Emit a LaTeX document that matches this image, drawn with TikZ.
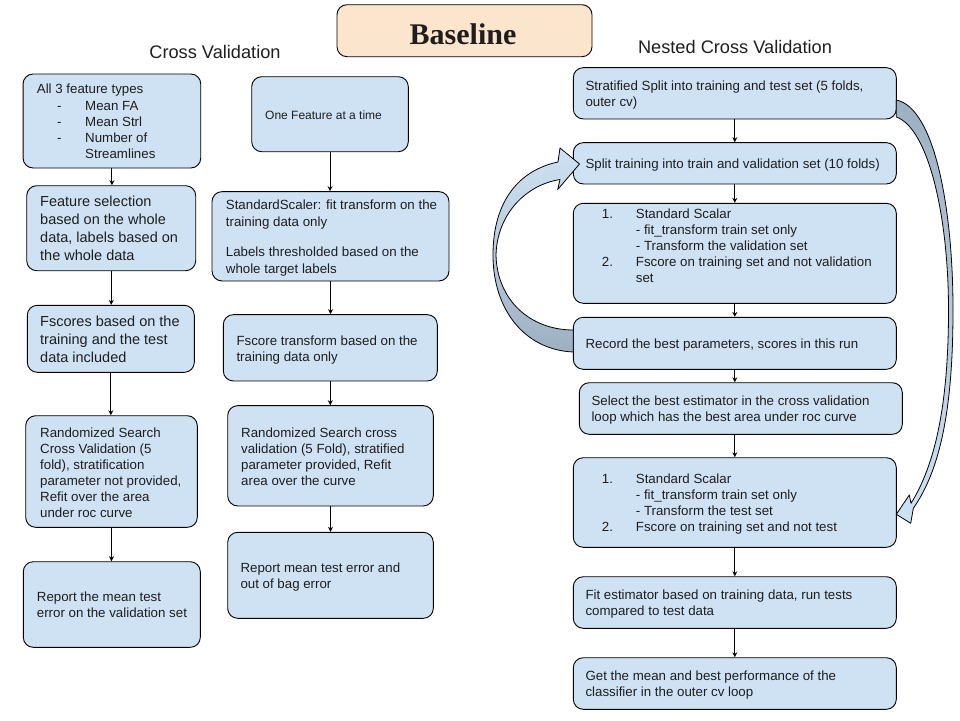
\documentclass[tikz,border=0pt]{standalone}
\usepackage{fontspec}
\setmainfont{Liberation Sans}
\newfontfamily\titlefont{Liberation Serif}
\usetikzlibrary{arrows.meta}
\definecolor{boxblue}{HTML}{CFE2F3}
\definecolor{peach}{HTML}{FCE5CD}
\definecolor{arrowgray}{HTML}{9DB0C1}
\definecolor{txtcol}{HTML}{1E1E1E}
\begin{document}
\begin{tikzpicture}[x=1pt,y=-1pt,
  box/.style={draw=black, line width=0.9pt, fill=boxblue, rounded corners=10pt, inner sep=0pt},
  tx/.style={anchor=north west, inner sep=0pt, align=left, text=txtcol, font=\fontsize{13.3}{16}\selectfont},
  txbig/.style={tx, font=\fontsize{14.5}{18}\selectfont},
  txsmall/.style={tx, font=\fontsize{12}{15}\selectfont},
  flow/.style={draw=black, line width=0.9pt, -{Stealth[length=5pt,width=5pt]}},
  bigarrow/.style={draw=black, line width=0.8pt, line join=round},
  head/.style={text=txtcol, inner sep=0pt, font=\fontsize{18.2}{20}\selectfont}
]
\useasboundingbox (0,0) rectangle (960,720);

% title
\node[draw=black, line width=0.9pt, fill=peach, rounded corners=10pt, minimum width=255pt, minimum height=52pt] (titlebox) at (464.5,30.7) {};
\node[inner sep=0pt, text=txtcol, font=\titlefont\bfseries\fontsize{30}{30}\selectfont] (title) at (463,34) {Baseline};

\node[head] (cvhead) at (215,51.7) {Cross Validation};
\node[head] (nestedhead) at (735,46.7) {Nested Cross Validation};

% left column
\node[box, minimum width=177.7pt, minimum height=94pt] (L1) at (111.9,121) {};
\node[box, minimum width=169pt, minimum height=85pt] (L2) at (111.2,228.2) {};
\node[box, minimum width=167pt, minimum height=67pt] (L3) at (110.8,338.8) {};
\node[box, minimum width=171.6pt, minimum height=111.6pt] (L4) at (111.5,471.5) {};
\node[box, minimum width=177pt, minimum height=85.6pt] (L5) at (111.8,604.5) {};

\node[tx] (L1t) at (36.7,84) {All 3 feature types};
\node[tx] (L1d) at (57,101) {\vphantom{M}-\\-\\-};
\node[tx] (L1i) at (85,101) {Mean FA\\Mean Strl\\Number of\\Streamlines};
\node[txbig] (L2t) at (40,196) {Feature selection\\based on the whole\\data, labels based on\\the whole data};
\node[txbig] (L3t) at (40,316) {Fscores based on the\\training and the test\\data included};
\node[tx] (L4t) at (40,427.3) {Randomized Search\\Cross Validation (5\\fold), stratification\\parameter not provided,\\Refit over the area\\under roc curve};
\node[tx] (L5t) at (36.7,591.7) {Report the mean test\\error on the validation set};

% middle column
\node[box, minimum width=156.6pt, minimum height=75pt] (M1) at (330,114.2) {};
\node[box, minimum width=237pt, minimum height=89.3pt] (M2) at (330.5,236.3) {};
\node[box, minimum width=214pt, minimum height=66.3pt] (M3) at (330.3,347.8) {};
\node[box, minimum width=205.6pt, minimum height=100.3pt] (M4) at (330.5,455.8) {};
\node[box, minimum width=205.6pt, minimum height=86pt] (M5) at (330.5,575.3) {};

\node[txsmall] (M1t) at (265,110.3) {One Feature at a time};
\node[tx, font=\fontsize{13.3}{17}\selectfont] (M2t) at (225.7,200) {StandardScaler: fit transform on the\\training data only\\[13pt]Labels thresholded based on the\\whole target labels};
\node[tx] (M3t) at (236.3,335.7) {Fscore transform based on the\\training data only};
\node[tx] (M4t) at (241,427.3) {Randomized Search cross\\validation (5 Fold), stratified\\parameter provided, Refit\\area over the curve};
\node[tx] (M5t) at (240.3,562.3) {Report mean test error and\\out of bag error};

% right column
\node[box, minimum width=323pt, minimum height=51.3pt] (R1) at (734.8,93.3) {};
\node[box, minimum width=323pt, minimum height=41.3pt] (R2) at (734.8,163.3) {};
\node[box, minimum width=323pt, minimum height=100pt] (R3) at (734.8,253.3) {};
\node[box, minimum width=323pt, minimum height=52pt] (R4) at (734.8,343.3) {};
\node[box, minimum width=323pt, minimum height=51.6pt] (R5) at (740.8,408.5) {};
\node[box, minimum width=323pt, minimum height=89.6pt] (R6) at (734.8,502.5) {};
\node[box, minimum width=323pt, minimum height=51.6pt] (R7) at (734.8,602.5) {};
\node[box, minimum width=323pt, minimum height=51.6pt] (R8) at (734.8,683.5) {};

\node[tx] (R1t) at (585.3,80.3) {Stratified Split into training and test set (5 folds,\\outer cv)};
\node[tx] (R2t) at (585.3,158.7) {Split training into train and validation set (10 folds)};
\node[tx] (R3n1) at (601.7,208.7) {1.};
\node[tx] (R3n2) at (601.7,256.7) {2.};
\node[tx] (R3t) at (635.7,208.7) {Standard Scalar\\- fit\_transform train set only\\- Transform the validation set\\Fscore on training set and not validation\\set};
\node[tx] (R4t) at (585.3,338.7) {Record the best parameters, scores in this run};
\node[tx] (R5t) at (591.3,395.7) {Select the best estimator in the cross validation\\loop which has the best area under roc curve};
\node[tx] (R6n1) at (601.7,474) {1.};
\node[tx] (R6n2) at (601.7,522) {2.};
\node[tx] (R6t) at (635.7,474) {Standard Scalar\\- fit\_transform train set only\\- Transform the test set\\Fscore on training set and not test};
\node[tx] (R7t) at (585.3,590) {Fit estimator based on training data, run tests\\compared to test data};
\node[tx] (R8t) at (585.3,670.7) {Get the mean and best performance of the\\classifier in the outer cv loop};

% connectors
\draw[flow] (L1.south) -- (L1.south |- L2.north);
\draw[flow] (L2.south) -- (L2.south |- L3.north);
\draw[flow] (L3.south) -- (L3.south |- L4.north);
\draw[flow] (L4.south) -- (L4.south |- L5.north);

\draw[flow] (M1.south) -- (M1.south |- M2.north);
\draw[flow] (M2.south) -- (M2.south |- M3.north);
\draw[flow] (M3.south) -- (M3.south |- M4.north);
\draw[flow] (M4.south) -- (M4.south |- M5.north);

\draw[flow] (R1.south) -- (R2.north);
\draw[flow] (R2.south) -- (R3.north);
\draw[flow] (R3.south) -- (R4.north);
\draw[flow] (R4.south) -- (R4.south |- R5.north);
\draw[flow] (R5.south -| R4.south) -- (R6.north);
\draw[flow] (R6.south) -- (R7.north);
\draw[flow] (R7.south) -- (R8.north);

% inner loop block arrow (R4 -> R2)
\draw[bigarrow, top color=boxblue, bottom color=arrowgray, middle color=boxblue!55!arrowgray]
  (573.3,352) .. controls (525,350) and (493,310) .. (493,255)
  .. controls (493,200) and (520,170) .. (558,162)
  -- (560,148) -- (579.5,164) -- (557.7,189.5) -- (560,179.5)
  .. controls (525,185) and (497,215) .. (496,255)
  .. controls (497,300) and (530,330) .. (573.3,330) -- cycle;

% outer block arrow (R1 -> R6)
\draw[bigarrow, top color=arrowgray, bottom color=boxblue]
  (896.3,100) .. controls (935,108) and (953,210) .. (953,310)
  .. controls (953,410) and (940,470) .. (913.3,508.3)
  -- (910.7,523.3) -- (896.3,514.3) -- (909.3,495) -- (911,503.3)
  .. controls (935,465) and (948.5,405) .. (948.5,310)
  .. controls (948.5,215) and (928,128) .. (896.3,117) -- cycle;
\end{tikzpicture}
\end{document}
